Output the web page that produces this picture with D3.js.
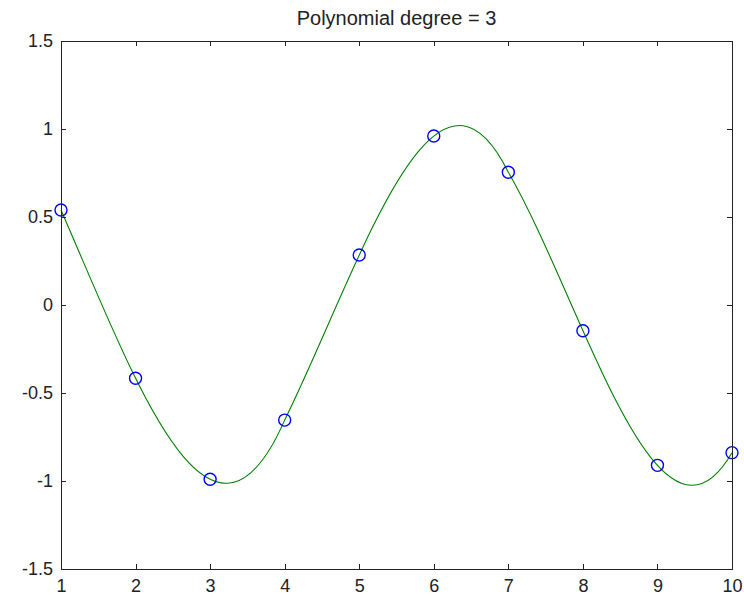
<!DOCTYPE html>
<html>
<head>
<meta charset="utf-8">
<script src="https://cdn.jsdelivr.net/npm/d3@7"></script>
<style>
  body { margin: 0; background: #fff; }
  svg text { font-family: "Liberation Sans", Arial, sans-serif; fill: #222; }
  .axis path, .axis line { stroke: #222; shape-rendering: crispEdges; }
</style>
</head>
<body>
<script>
// sample points (x, y)
var xs = [1, 2, 3, 4, 5, 6, 7, 8, 9, 10];
var ys = [0.54, -0.416, -0.99, -0.654, 0.284, 0.96, 0.754, -0.146, -0.911, -0.839];
var xTicks = [1, 2, 3, 4, 5, 6, 7, 8, 9, 10];
var yTicks = [-1.5, -1, -0.5, 0, 0.5, 1, 1.5];
var title = "Polynomial degree = 3";

var width = 744,
    height = 597;
var margin = {left: 61, top: 41, right: 12, bottom: 28};

// piecewise cubic: one cubic through each run of 4 points (1-4, 4-7, 7-10),
// written out as bezier segments (points are evenly spaced in x)
function curvePiecewiseCubic(context) {
    var px, py;
    return {
        areaStart: function() {},
        areaEnd: function() {},
        lineStart: function() { px = []; py = []; },
        point: function(a, b) { px.push(+a); py.push(+b); },
        lineEnd: function() {
            var n = px.length;
            context.moveTo(px[0], py[0]);
            var i = 0;
            while (i < n - 1) {
                if (i + 3 < n) {
                    var y0 = py[i], y1 = py[i + 1], y2 = py[i + 2], y3 = py[i + 3];
                    context.bezierCurveTo(
                        px[i + 1], (-5 * y0 + 18 * y1 - 9 * y2 + 2 * y3) / 6,
                        px[i + 2], (2 * y0 - 9 * y1 + 18 * y2 - 5 * y3) / 6,
                        px[i + 3], y3);
                    i += 3;
                } else {
                    context.lineTo(px[i + 1], py[i + 1]);
                    i += 1;
                }
            }
        }
    };
}

var svg = d3.select("body").append("svg")
    .attr("width", width)
    .attr("height", height);

var x = d3.scaleLinear().domain([1, 10]).range([margin.left, width - margin.right]);
var y = d3.scaleLinear().domain([-1.5, 1.5]).range([height - margin.bottom, margin.top]);

var pts = xs.map(function(d, i) { return [d, ys[i]]; });

// fitted curve
var line = d3.line()
    .x(function(d) { return x(d[0]); })
    .y(function(d) { return y(d[1]); })
    .curve(curvePiecewiseCubic);

svg.append("path")
    .datum(pts)
    .attr("fill", "none")
    .attr("stroke", "#008000")
    .attr("stroke-width", 1.1)
    .attr("d", line);

// markers
svg.selectAll(".pt")
    .data(pts)
    .enter().append("circle")
    .attr("class", "pt")
    .attr("cx", function(d) { return x(d[0]); })
    .attr("cy", function(d) { return y(d[1]); })
    .attr("r", 6)
    .attr("fill", "none")
    .attr("stroke", "#0000ff")
    .attr("stroke-width", 1.4);

// axes, ticks pointing in
var fmt = function(d) { return String(d); };
var bottom = svg.append("g").attr("class", "axis")
    .attr("transform", "translate(0," + y(-1.5) + ")")
    .call(d3.axisBottom(x).tickValues(xTicks).tickFormat(fmt).tickSizeInner(-5).tickSizeOuter(0).tickPadding(10));
var left = svg.append("g").attr("class", "axis")
    .attr("transform", "translate(" + x(1) + ",0)")
    .call(d3.axisLeft(y).tickValues(yTicks).tickFormat(fmt).tickSizeInner(-5).tickSizeOuter(0).tickPadding(8));
svg.append("g").attr("class", "axis")
    .attr("transform", "translate(0," + y(1.5) + ")")
    .call(d3.axisTop(x).tickValues(xTicks).tickFormat("").tickSizeInner(-5).tickSizeOuter(0));
svg.append("g").attr("class", "axis")
    .attr("transform", "translate(" + x(10) + ",0)")
    .call(d3.axisRight(y).tickValues(yTicks).tickFormat("").tickSizeInner(-5).tickSizeOuter(0));

svg.selectAll(".axis text").style("font-size", "18px").attr("fill", "#222");
bottom.selectAll("text").attr("dy", "0.71em");

svg.append("text")
    .attr("x", (x(1) + x(10)) / 2)
    .attr("y", 25)
    .attr("text-anchor", "middle")
    .style("font-size", "20px")
    .text(title);
</script>
</body>
</html>
